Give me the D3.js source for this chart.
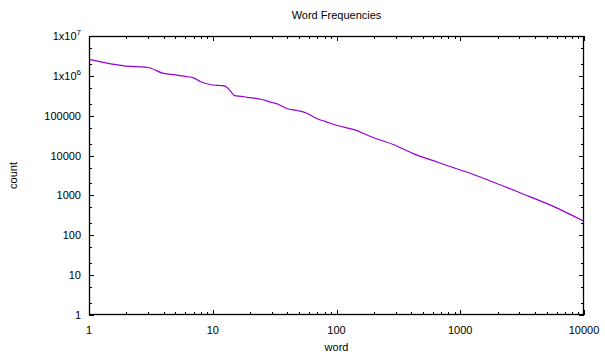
<!DOCTYPE html>
<html>
<head>
<meta charset="utf-8">
<script src="https://cdn.jsdelivr.net/npm/d3@7"></script>
<style>
  body { margin: 0; background: #fff; }
  svg { display: block; font-family: "Liberation Sans", Arial, sans-serif; }
</style>
</head>
<body>
<script>
// word rank vs. occurrence count
const ranks = [1, 2, 3, 4, 5, 6, 7, 8, 10, 12, 13, 14, 15, 17, 19, 25, 30, 33, 40, 48, 57, 69, 81, 103, 141, 180, 225, 287, 417, 647, 909, 1167, 1690, 3140, 5830, 10000]
const counts = [2600000, 1760000, 1620000, 1150000, 1060000, 970000, 890000, 710000, 590000, 570000, 520000, 400000, 320000, 305000, 290000, 255000, 215000, 200000, 150000, 135000, 117000, 85000, 72000, 56000, 44000, 32000, 24500, 19000, 11200, 6900, 4800, 3700, 2400, 1120, 510, 224]

const xTicks = [1, 10, 100, 1000, 10000]
const yTicks = [1, 10, 100, 1000, 10000, 100000, 1e6, 1e7]

const width = 605
const height = 356
const margin = {top: 36, right: 21, bottom: 41, left: 89}

const svg = d3.select('body').append('svg')
  .attr('width', width)
  .attr('height', height)
  .attr('viewBox', `0 0 ${width} ${height}`)

const x = d3.scaleLog()
  .domain([1, 10000])
  .range([margin.left, width - margin.right])

const y = d3.scaleLog()
  .domain([1, 1e7])
  .range([height - margin.bottom, margin.top])

const x0 = margin.left, x1 = width - margin.right
const y0 = height - margin.bottom, y1 = margin.top

// minor ticks
const xMinor = []
for (const d of xTicks.slice(0, -1)) for (let k = 2; k < 10; k++) xMinor.push(d * k)
const yMinor = []
for (const d of yTicks.slice(0, -1)) for (const k of [2, 5]) yMinor.push(d * k)

const ticks = svg.append('g').attr('stroke', '#000').attr('stroke-width', 1)

ticks.selectAll('.xt').data(xTicks.concat(xMinor)).join('path')
  .attr('d', d => {
    const len = xTicks.includes(d) ? 5 : 3
    const px = Math.round(x(d)) + 0.5
    return `M${px},${y0}v${-len}M${px},${y1}v${len}`
  })

ticks.selectAll('.yt').data(yTicks.concat(yMinor)).join('path')
  .attr('d', d => {
    const len = yTicks.includes(d) ? 5 : 3
    const py = Math.round(y(d)) + 0.5
    return `M${x0},${py}h${len}M${x1},${py}h${-len}`
  })

// data line
const line = d3.line()
  .x((d, i) => x(ranks[i]))
  .y(d => y(d))
  .curve(d3.curveMonotoneX)

svg.append('path')
  .datum(counts)
  .attr('fill', 'none')
  .attr('stroke', '#9400d3')
  .attr('stroke-width', 1.2)
  .attr('d', line)

// frame
svg.append('rect')
  .attr('x', x0 + 0.5)
  .attr('y', y1 + 0.5)
  .attr('width', x1 - x0 - 1)
  .attr('height', y0 - y1 - 1)
  .attr('fill', 'none')
  .attr('stroke', '#000')
  .attr('stroke-width', 1.3)

// tick labels
svg.append('g')
  .attr('font-size', 11)
  .attr('text-anchor', 'middle')
  .selectAll('text')
  .data(xTicks)
  .join('text')
  .attr('x', d => x(d))
  .attr('y', y0 + 19)
  .text(d => d)

const yl = svg.append('g')
  .attr('font-size', 11)
  .attr('text-anchor', 'end')
  .selectAll('text')
  .data(yTicks)
  .join('text')
  .attr('x', x0 - 8)
  .attr('y', d => y(d) + 4)

yl.each(function(d) {
  const t = d3.select(this)
  if (d >= 1e6) {
    t.append('tspan').text('1x10')
    t.append('tspan').attr('font-size', 8).attr('dy', -5).text(Math.round(Math.log10(d)))
  } else {
    t.text(d)
  }
})

// titles
svg.append('text')
  .attr('x', (x0 + x1) / 2)
  .attr('y', 19)
  .attr('text-anchor', 'middle')
  .attr('font-size', 11)
  .text('Word Frequencies')

svg.append('text')
  .attr('x', (x0 + x1) / 2)
  .attr('y', 351)
  .attr('text-anchor', 'middle')
  .attr('font-size', 11)
  .text('word')

svg.append('text')
  .attr('transform', `translate(17,${(y0 + y1) / 2}) rotate(-90)`)
  .attr('text-anchor', 'middle')
  .attr('font-size', 11)
  .text('count')
</script>
</body>
</html>
